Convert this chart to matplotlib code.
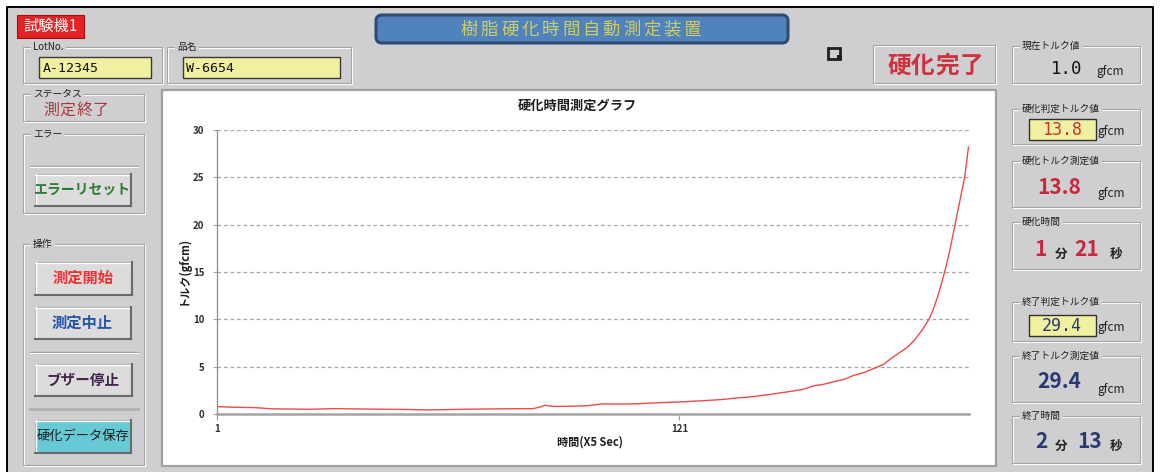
import matplotlib
matplotlib.use("Agg")
import matplotlib.pyplot as plt
from matplotlib.patches import Rectangle, FancyBboxPatch

plt.rcParams["font.family"] = ["Noto Sans CJK JP", "DejaVu Sans"]

# torque curve (sample index, gfcm)
sample_idx = [1, 5, 11, 15, 25, 32, 40, 50, 56, 65, 75, 83, 85, 86, 88, 93, 97,
              101, 106, 111, 116, 121, 127, 132, 136, 140, 145, 150, 153, 156,
              158, 161, 164, 166, 169, 172, 174, 176, 178, 180, 182, 184, 185,
              186, 187, 188, 189, 190, 191, 192, 193, 194, 195, 196]
torque = [0.77, 0.72, 0.67, 0.55, 0.50, 0.57, 0.52, 0.48, 0.43, 0.50, 0.55,
          0.57, 0.75, 0.93, 0.80, 0.82, 0.87, 1.07, 1.05, 1.10, 1.20, 1.27,
          1.40, 1.53, 1.70, 1.83, 2.10, 2.40, 2.60, 3.00, 3.10, 3.40, 3.70,
          4.05, 4.40, 4.90, 5.25, 5.90, 6.45, 7.00, 7.80, 8.90, 9.50, 10.2,
          11.2, 12.4, 13.8, 15.3, 17.0, 19.0, 21.0, 23.0, 25.0, 28.2]
y_ticks = [0, 5, 10, 15, 20, 25, 30]
x_ticks = [1, 121]

chart_title = "硬化時間測定グラフ"
x_label = "時間(X5 Sec)"
y_label = "トルク(gfcm)"

lot_no = "A-12345"
product = "W-6654"
status = "測定終了"
state = "硬化完了"
torque_now = "1.0"
cure_judge = "13.8"
cure_meas = "13.8"
cure_min, cure_sec = "1", "21"
end_judge = "29.4"
end_meas = "29.4"
end_min, end_sec = "2", "13"

BG = "#CFCFD1"
RED_NUM = "#C8283C"
NAVY = "#2A3A70"
YELLOW = "#F0F0A0"
MONO = "DejaVu Sans Mono"

fig = plt.figure(figsize=(11.62, 4.72), dpi=100)
fig.patch.set_facecolor("white")
ui = fig.add_axes([0, 0, 1, 1])
ui.set_xlim(0, 1162)
ui.set_ylim(472, 0)
ui.axis("off")


def rect(x0, y0, x1, y1, **kw):
    ui.add_patch(Rectangle((x0, y0), x1 - x0, y1 - y0, **kw))


def group(x0, y0, x1, y1, label):
    rect(x0 + 1, y0 + 1, x1 + 1, y1 + 1, fc="none", ec="white", lw=0.8)
    rect(x0, y0, x1, y1, fc="none", ec="#A4A4A4", lw=0.8)
    if label:
        ui.text(x0 + 10, y0, label, fontsize=7, ha="left", va="center",
                color="#202020", bbox=dict(fc=BG, ec="none", pad=1.5))


def button(x0, y0, x1, y1, label, color, face="#DCDCDC", bold=True, size=10.5):
    rect(x0, y0, x1, y1, fc=face, ec="#A8A8A8", lw=0.8)
    ui.plot([x0, x1], [y0 + 0.5, y0 + 0.5], color="white", lw=1)
    ui.plot([x0 + 0.5, x0 + 0.5], [y0, y1], color="white", lw=1)
    ui.plot([x0, x1 + 1], [y1 + 1, y1 + 1], color="#6A6A6A", lw=1.5)
    ui.plot([x1 + 1, x1 + 1], [y0, y1 + 1], color="#6A6A6A", lw=1.5)
    ui.text((x0 + x1) / 2, (y0 + y1) / 2, label, fontsize=size, ha="center",
            va="center", color=color, fontweight="bold" if bold else "normal")


def spaced(x_center, y, txt, step, **kw):
    n = len(txt)
    for i, ch in enumerate(txt):
        ui.text(x_center + (i - (n - 1) / 2) * step, y, ch, ha="center",
                va="center", **kw)


# window background and border
rect(7, 7, 1153, 480, fc=BG, ec="none")
ui.plot([7, 7, 1153, 1153], [480, 7, 7, 480], color="black", lw=1.4)

# machine tag
rect(17, 15, 84, 38, fc="#E42424", ec="#A01010", lw=0.8)
ui.text(50.5, 26.5, "試験機1", fontsize=11, color="white", ha="center",
        va="center")

# title bar
ui.add_patch(FancyBboxPatch((376, 15), 412, 28,
                            boxstyle="round,pad=0,rounding_size=6",
                            fc="#5083BE", ec="#2E4C72", lw=2.2))
spaced(581, 29.5, "樹脂硬化時間自動測定装置", 20.3, fontsize=12.5,
       color="#D2CE5E")

# lot / product
group(23, 47, 162, 83, "LotNo.")
rect(39, 57, 151, 78, fc=YELLOW, ec="#3A3A3A", lw=1)
ui.text(43, 68, lot_no, fontsize=9.5, family=MONO,
        ha="left", va="center", color="#101010")
group(167, 47, 351, 83, "品名")
rect(183, 57, 340, 78, fc=YELLOW, ec="#3A3A3A", lw=1)
ui.text(186, 68, product, fontsize=9.5, family=MONO,
        ha="left", va="center", color="#101010")

# status
group(23, 94, 144, 121, "ステータス")
spaced(76, 110, status, 16.5, fontsize=11.5, color="#A8383C")

# error
group(23, 134, 144, 213, "エラー")
ui.plot([30, 138], [166, 166], color="#A0A0A0", lw=1)
ui.plot([30, 138], [167, 167], color="white", lw=0.8)
button(35, 174, 130, 205, "エラーリセット", "#2E7A34", size=10)

# operation
group(23, 244, 144, 465, "操作")
button(35, 262, 131, 294, "測定開始", "#F03434", size=11)
button(35, 307, 130, 338, "測定中止", "#2456A8", size=11)
ui.plot([30, 138], [352, 352], color="#A0A0A0", lw=1)
ui.plot([30, 138], [353, 353], color="white", lw=0.8)
button(35, 364, 131, 395, "ブザー停止", "#42244A", size=10.5)
ui.plot([30, 138], [409, 409], color="#B0B0B0", lw=2)
button(35, 420, 130, 452, "硬化データ保存", "#202020", face="#66CAD6",
       bold=False, size=9.5)

# chart panel
rect(162, 90, 996, 466, fc="white", ec="#A0A0A0", lw=1.6)
fig.text(577 / 1162, 1 - 106 / 472, chart_title, fontsize=9.5,
         fontweight="bold", ha="center", va="center", color="#202020")

# small icon
rect(828, 48, 840, 59, fc="none", ec="#202020", lw=2)
rect(837, 55, 842, 60, fc="#202020", ec="none")

# completion box
group(873, 45, 995, 83, "")
spaced(935, 66, state, 24, fontsize=17, fontweight="bold", color="#CF3040")

# right side panels
group(1012, 46, 1140, 83, "現在トルク値")
ui.text(1067, 69, torque_now, fontsize=12.5, family=MONO, ha="center",
        va="center", color="#151515")
ui.text(1110, 72, "gfcm", fontsize=8.5, ha="center", va="center",
        color="#202020")

group(1012, 109, 1140, 144, "硬化判定トルク値")
rect(1029, 119, 1096, 140, fc=YELLOW, ec="#303030", lw=1)
ui.text(1062, 130, cure_judge, fontsize=12, family=MONO, ha="center",
        va="center", color="#D03030")
ui.text(1111, 132, "gfcm", fontsize=8.5, ha="center", va="center",
        color="#202020")

group(1012, 161, 1140, 207, "硬化トルク測定値")
ui.text(1059, 187, cure_meas, fontsize=15, fontweight="bold", ha="center",
        va="center", color=RED_NUM)
ui.text(1111, 193, "gfcm", fontsize=8.5, ha="center", va="center",
        color="#202020")

group(1012, 222, 1140, 269, "硬化時間")
ui.text(1040, 250, cure_min, fontsize=15, fontweight="bold", ha="center",
        va="center", color=RED_NUM)
ui.text(1061, 254, "分", fontsize=9, fontweight="bold", ha="center",
        va="center", color="#202020")
ui.text(1087, 250, cure_sec, fontsize=15, fontweight="bold", ha="center",
        va="center", color=RED_NUM)
ui.text(1116, 254, "秒", fontsize=9, fontweight="bold", ha="center",
        va="center", color="#202020")

group(1012, 302, 1140, 341, "終了判定トルク値")
rect(1029, 315, 1096, 336, fc=YELLOW, ec="#303030", lw=1)
ui.text(1062, 326, end_judge, fontsize=12, family=MONO, ha="center",
        va="center", color=NAVY)
ui.text(1111, 328, "gfcm", fontsize=8.5, ha="center", va="center",
        color="#202020")

group(1012, 356, 1140, 402, "終了トルク測定値")
ui.text(1059, 382, end_meas, fontsize=15, fontweight="bold", ha="center",
        va="center", color=NAVY)
ui.text(1111, 389, "gfcm", fontsize=8.5, ha="center", va="center",
        color="#202020")

group(1012, 416, 1140, 463, "終了時間")
ui.text(1041, 442, end_min, fontsize=15, fontweight="bold", ha="center",
        va="center", color=NAVY)
ui.text(1061, 446, "分", fontsize=9, fontweight="bold", ha="center",
        va="center", color="#202020")
ui.text(1090, 442, end_sec, fontsize=15, fontweight="bold", ha="center",
        va="center", color=NAVY)
ui.text(1116, 446, "秒", fontsize=9, fontweight="bold", ha="center",
        va="center", color="#202020")

# the torque chart
left, right, top, bottom = 217, 968.5, 130, 414
ax = fig.add_axes([left / 1162, 1 - bottom / 472, (right - left) / 1162,
                   (bottom - top) / 472])
ax.set_facecolor("none")
ax.plot(sample_idx, torque, color="#F04A4A", lw=1.0)
ax.set_xlim(1, 196)
ax.set_ylim(0, 30)
ax.set_yticks(y_ticks)
ax.set_xticks(x_ticks)
ax.yaxis.grid(True, color="#A8A8A8", ls=(0, (3, 2.2)), lw=0.9)
ax.set_axisbelow(True)
for s in ("top", "right"):
    ax.spines[s].set_visible(False)
ax.spines["left"].set_color("#8C8C8C")
ax.spines["left"].set_linewidth(0.9)
ax.spines["bottom"].set_color("#A4A4A4")
ax.spines["bottom"].set_linewidth(1.8)
ax.tick_params(axis="y", length=3, width=0.8, color="#A0A0A0", pad=6,
               labelsize=7, labelcolor="#303030")
ax.tick_params(axis="x", length=4, width=0.8, color="#A0A0A0", pad=3,
               labelsize=7, labelcolor="#303030")
for lab in ax.get_xticklabels() + ax.get_yticklabels():
    lab.set_fontweight("bold")
fig.text(183 / 1162, 1 - 270 / 472, y_label, rotation=90, fontsize=8,
         fontweight="bold", ha="center", va="center", color="#202020")
fig.text(590 / 1162, 1 - 442 / 472, x_label, fontsize=8, fontweight="bold",
         ha="center", va="center", color="#202020")

fig.savefig("out.png", dpi=100, facecolor=fig.get_facecolor())
